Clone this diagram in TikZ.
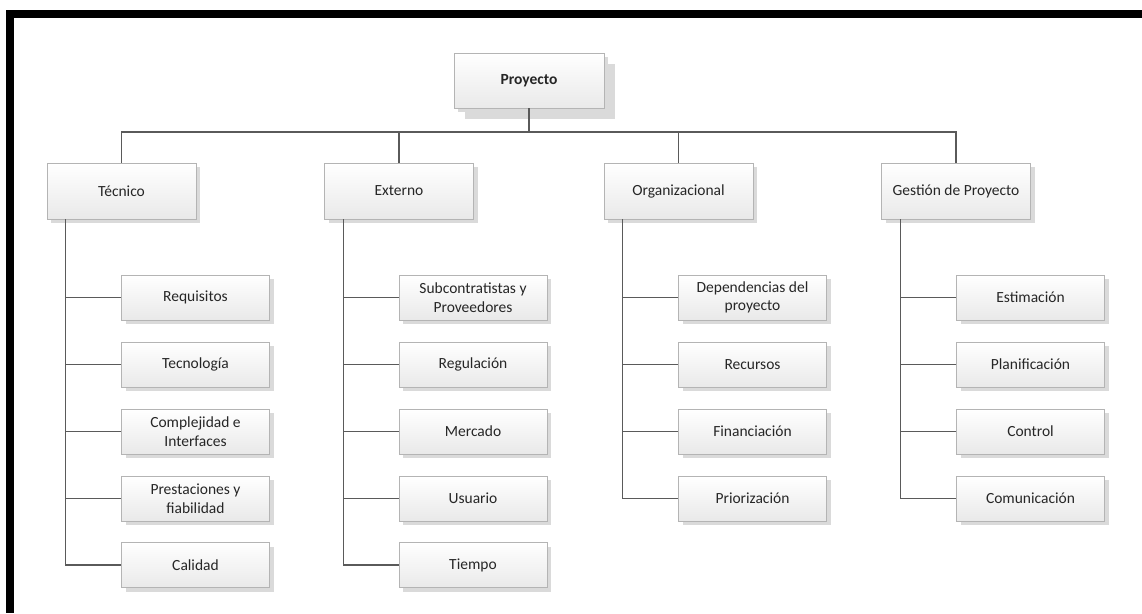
\documentclass[tikz,border=0pt]{standalone}
\usepackage{fontspec}
\setmainfont{Carlito}
\usetikzlibrary{shadows,calc}
\definecolor{linegray}{HTML}{5A5A5A}
\definecolor{boxedge}{HTML}{B4B4B4}
\definecolor{boxtop}{HTML}{FFFFFF}
\definecolor{boxbot}{HTML}{E9E9E9}
\definecolor{shade}{HTML}{DADADA}
\definecolor{txt}{HTML}{262626}
\tikzset{
  box/.style={rectangle, draw=boxedge, line width=0.8pt, top color=boxtop, bottom color=boxbot,
    text=txt, align=center, inner sep=0pt,
    font=\fontsize{15.5}{18.5}\selectfont,
    drop shadow={shadow xshift=4pt, shadow yshift=-4pt, fill=shade, opacity=1}},
  rootbox/.style={box, minimum width=150pt, minimum height=55pt, font=\fontsize{15.5}{18.5}\selectfont\bfseries,
    drop shadow={shadow xshift=11pt, shadow yshift=-11pt, fill=shade, opacity=1}},
  headbox/.style={box, minimum width=149pt, minimum height=56pt},
  leafbox/.style={box, minimum width=148pt, minimum height=45pt},
  link/.style={draw=linegray, line width=1.2pt}
}
\begin{document}
\begin{tikzpicture}[x=1pt, y=-1pt]
\useasboundingbox (0,0) rectangle (1142,613);
\fill[white] (0,0) rectangle (1142,613);
% frame bars along the top and the left
\fill[black] (6,10) rectangle (1142,18);
\fill[black] (6,10) rectangle (14,613);

% root
\node[rootbox] (P) at (529,80.5) {Proyecto};

% categories
\node[headbox] (T) at (121.5,191) {Técnico};
\node[headbox] (E) at (399,191) {Externo};
\node[headbox] (O) at (678.5,191) {Organizacional};
\node[headbox] (G) at (956,191) {Gestión de Proyecto};

% Técnico
\node[leafbox] (T1) at (195.5,297.5) {Requisitos};
\node[leafbox] (T2) at (195.5,364.5) {Tecnología};
\node[leafbox] (T3) at (195.5,431.5) {Complejidad e\\Interfaces};
\node[leafbox] (T4) at (195.5,498.5) {Prestaciones y\\fiabilidad};
\node[leafbox] (T5) at (195.5,565) {Calidad};

% Externo
\node[leafbox] (E1) at (473,297.5) {Subcontratistas y\\Proveedores};
\node[leafbox] (E2) at (473,364.5) {Regulación};
\node[leafbox] (E3) at (473,431.5) {Mercado};
\node[leafbox] (E4) at (473,498.5) {Usuario};
\node[leafbox] (E5) at (473,565) {Tiempo};

% Organizacional
\node[leafbox] (O1) at (752.5,297.5) {Dependencias del\\proyecto};
\node[leafbox] (O2) at (752.5,364.5) {Recursos};
\node[leafbox] (O3) at (752.5,431.5) {Financiación};
\node[leafbox] (O4) at (752.5,498.5) {Priorización};

% Gestión de Proyecto
\node[leafbox] (G1) at (1030.5,297.5) {Estimación};
\node[leafbox] (G2) at (1030.5,364.5) {Planificación};
\node[leafbox] (G3) at (1030.5,431.5) {Control};
\node[leafbox] (G4) at (1030.5,498.5) {Comunicación};

% top level bus
\coordinate (bus) at (0,132);
\draw[link] (P.south) -- (P.south |- bus);
\draw[link] (T.north) -- (T.north |- bus) -| (G.north);
\draw[link] (E.north) -- (E.north |- bus);
\draw[link] (O.north) -- (O.north |- bus);

% spines
\coordinate (sT) at ($(T.south west)+(19,0)$);
\coordinate (sE) at ($(E.south west)+(19,0)$);
\coordinate (sO) at ($(O.south west)+(19,0)$);
\coordinate (sG) at ($(G.south west)+(19,0)$);
\draw[link] (sT) |- (T5.west);
\draw[link] (sE) |- (E5.west);
\draw[link] (sO) |- (O4.west);
\draw[link] (sG) |- (G4.west);
\foreach \n in {T1,T2,T3,T4} \draw[link] (\n.west) -- (\n.west -| sT);
\foreach \n in {E1,E2,E3,E4} \draw[link] (\n.west) -- (\n.west -| sE);
\foreach \n in {O1,O2,O3} \draw[link] (\n.west) -- (\n.west -| sO);
\foreach \n in {G1,G2,G3} \draw[link] (\n.west) -- (\n.west -| sG);
\end{tikzpicture}
\end{document}
